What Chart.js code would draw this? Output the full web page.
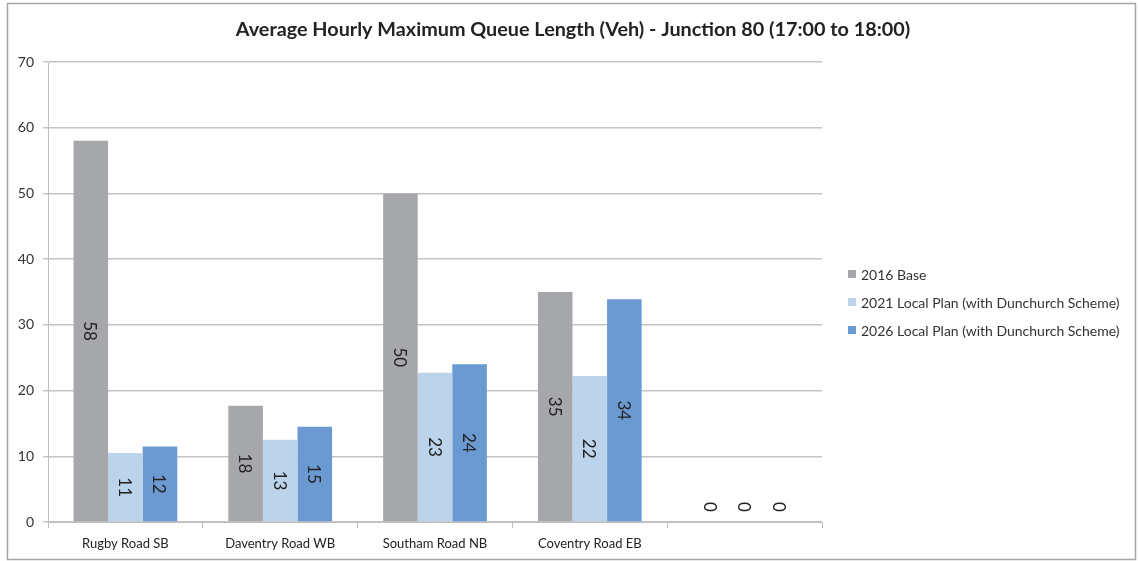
<!DOCTYPE html>
<html lang="en">
<head>
  <meta charset="UTF-8" />
  <title>Junction 80 Queue Length</title>
  <style>
    body { margin: 0; background: #fff; }
    #wrap { position: relative; width: 1138px; height: 561px; }
  </style>
</head>
<body>
  <div id="wrap"><canvas id="queueChart" width="1138" height="561"></canvas></div>

  <script src="https://cdn.jsdelivr.net/npm/chart.js"></script>
  <script>
    const categories = ['Rugby Road SB', 'Daventry Road WB', 'Southam Road NB', 'Coventry Road EB', ''];
    const base2016 = [58, 17.7, 50, 35, 0];
    const plan2021 = [10.5, 12.5, 22.7, 22.2, 0];
    const plan2026 = [11.5, 14.5, 24, 33.9, 0];
    const yTicks = [0, 10, 20, 30, 40, 50, 60, 70];

    const FONT = 'Lato, "Open Sans", sans-serif';
    const TITLE = 'Average Hourly Maximum Queue Length (Veh) - Junction 80 (17:00 to 18:00)';

    // frame, title and legend, drawn by hand to fix their places
    const decor = {
      id: 'decor',
      beforeDraw(chart) {
        const c = chart.ctx;
        c.save();
        c.fillStyle = '#fff';
        c.fillRect(0, 0, chart.width, chart.height);
        c.strokeStyle = '#a6a6a6';
        c.lineWidth = 1.5;
        c.strokeRect(7.5, 3.5, 1128, 556);
        c.restore();
      },
      afterDraw(chart) {
        const c = chart.ctx;
        c.save();
        c.fillStyle = '#222';
        c.font = 'bold 19.8px ' + FONT;
        c.textAlign = 'center';
        c.textBaseline = 'middle';
        c.fillText(TITLE, 573, 30);

        c.font = '14px ' + FONT;
        c.textAlign = 'left';
        chart.data.datasets.forEach((ds, i) => {
          const y = 274 + i * 28;
          c.fillStyle = ds.backgroundColor;
          c.fillRect(848, y - 4, 8, 8);
          c.fillStyle = '#333';
          c.fillText(ds.label, 861, y + 1);
        });
        c.restore();
      }
    };

    // rotated value labels inside the bars
    const barLabels = {
      id: 'barLabels',
      afterDatasetsDraw(chart) {
        const c = chart.ctx;
        c.save();
        c.font = '17px ' + FONT;
        c.fillStyle = '#222';
        c.textAlign = 'center';
        c.textBaseline = 'middle';
        chart.data.datasets.forEach((ds, i) => {
          chart.getDatasetMeta(i).data.forEach((bar, j) => {
            const v = ds.data[j];
            const y = v === 0 ? bar.base - 15 : (bar.y + bar.base) / 2;
            c.save();
            c.translate(bar.x, y);
            c.rotate(Math.PI / 2);
            c.fillText(String(Math.round(v)), 0, 1);
            c.restore();
          });
        });
        c.restore();
      }
    };

    new Chart(document.getElementById('queueChart'), {
      type: 'bar',
      data: {
        labels: categories,
        datasets: [
          { label: '2016 Base', data: base2016, backgroundColor: '#a6a7ab' },
          { label: '2021 Local Plan (with Dunchurch Scheme)', data: plan2021, backgroundColor: '#bcd3ec' },
          { label: '2026 Local Plan (with Dunchurch Scheme)', data: plan2026, backgroundColor: '#6b9ad2' }
        ]
      },
      options: {
        responsive: false,
        animation: false,
        layout: { padding: { left: 0, right: 316, top: 62, bottom: 0 } },
        datasets: { bar: { categoryPercentage: 0.67, barPercentage: 1 } },
        plugins: { legend: { display: false }, title: { display: false }, tooltip: { enabled: false } },
        scales: {
          x: {
            grid: { drawOnChartArea: false, tickLength: 6, color: '#bfbfbf' },
            border: { color: '#bfbfbf' },
            ticks: { font: { family: FONT, size: 13 }, color: '#222', padding: 8, maxRotation: 0 },
            afterFit(scale) { scale.height = 39; }
          },
          y: {
            min: 0,
            max: 70,
            afterBuildTicks(scale) { scale.ticks = yTicks.map(v => ({ value: v })); },
            grid: { color: '#c4c4c4', tickLength: 5, lineWidth: 1.5 },
            border: { color: '#bfbfbf' },
            ticks: { font: { family: FONT, size: 14 }, color: '#333', padding: 9 },
            afterFit(scale) { scale.width = 48; }
          }
        }
      },
      plugins: [decor, barLabels]
    });
  </script>
</body>
</html>
